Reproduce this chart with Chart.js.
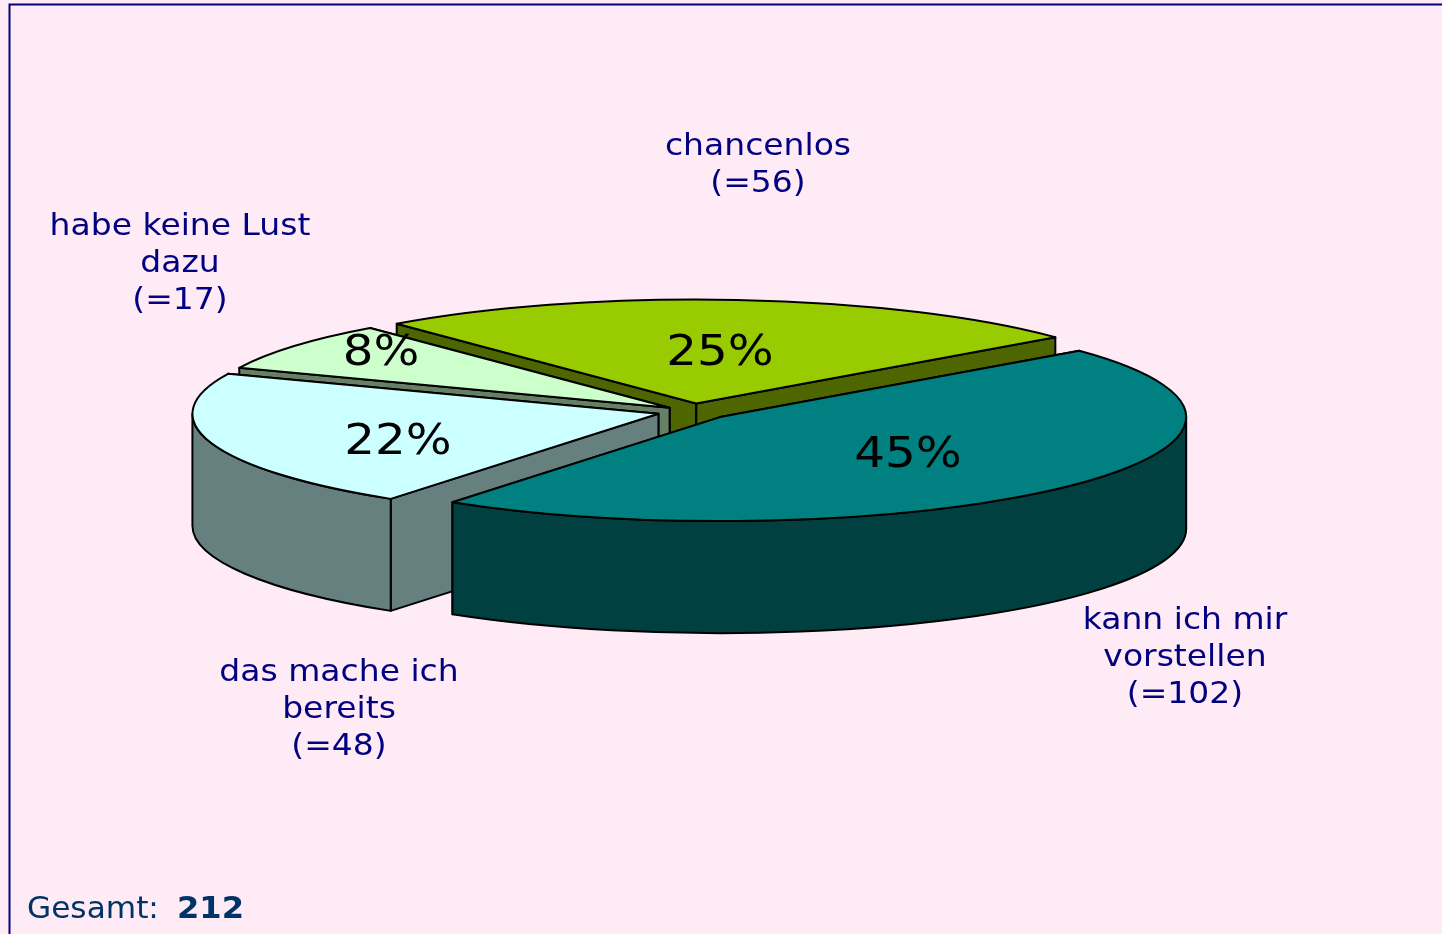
<!DOCTYPE html>
<html lang="de"><head><meta charset="utf-8">
<style>html,body{margin:0;padding:0;background:#FFEBF5;overflow:hidden}canvas{display:block}</style>
<script src="https://cdn.jsdelivr.net/npm/chart.js@4"></script>
</head><body>
<canvas id="c" width="1442" height="934"></canvas>
<script>
const categories = ['kann ich mir vorstellen', 'das mache ich bereits', 'habe keine Lust dazu', 'chancenlos'];
const counts = [102, 48, 17, 56];
const percentLabels = ['45%', '22%', '8%', '25%'];
const topColors = ['#008080', '#CCFFFF', '#CCFFCC', '#99CC00'];
const sideColors = ['#004040', '#668080', '#668066', '#4D6600'];
const labelLines = [['kann ich mir', 'vorstellen', '(=102)'], ['das mache ich', 'bereits', '(=48)'], ['habe keine Lust', 'dazu', '(=17)'], ['chancenlos', '(=56)']];
const totalLabel = 'Gesamt:';
const totalValue = '212';

const GEO = {squash: 104 / 466, explode: [37, 36, 29, 36], depth: 112};
const labelAnchor = [[1185, 629], [339, 681], [180, 235], [758, 155]];
const pctAnchor = [[908, 467], [398, 454], [381, 365], [720, 365]];
const TEXT_SX = 1.1, PCT_SX = 1.15;

function stretched(ctx, s, x, y, sx, align) {
  ctx.save();
  ctx.translate(x, y); ctx.scale(sx, 1);
  ctx.textAlign = align; ctx.textBaseline = 'alphabetic';
  ctx.fillText(s, 0, 0);
  ctx.restore();
}

const pie3d = {
  id: 'pie3d',
  beforeDraw(chart) {
    const ctx = chart.ctx;
    ctx.save();
    ctx.fillStyle = '#FFEBF5';
    ctx.fillRect(0, 0, 1442, 934);
    ctx.strokeStyle = '#000080'; ctx.lineWidth = 2;
    ctx.beginPath(); ctx.moveTo(9.5, 934); ctx.lineTo(9.5, 4.5); ctx.lineTo(1442, 4.5); ctx.stroke();
    ctx.restore();
  },
  beforeDatasetsDraw(chart) {
    const ctx = chart.ctx;
    const arcs = chart.getDatasetMeta(0).data.map((a, i) => ({a, i}));
    const mid = a => (a.startAngle + a.endAngle) / 2;
    arcs.sort((p, q) => Math.sin(mid(p.a)) - Math.sin(mid(q.a)));
    const k = GEO.squash, d = GEO.depth;
    for (const {a, i} of arcs) {
      const m = mid(a), r = a.outerRadius;
      const ax = a.x + Math.cos(m) * GEO.explode[i];
      const ay = a.y + Math.sin(m) * GEO.explode[i] * k;
      const pt = t => [ax + Math.cos(t) * r, ay + Math.sin(t) * r * k];
      ctx.save();
      ctx.lineJoin = 'round'; ctx.lineWidth = 2; ctx.strokeStyle = '#000';
      ctx.fillStyle = sideColors[i];
      const faces = [a.startAngle, a.endAngle].sort((s, t) => Math.sin(s) - Math.sin(t));
      for (const t of faces) {
        const [x, y] = pt(t);
        ctx.beginPath(); ctx.moveTo(ax, ay); ctx.lineTo(x, y); ctx.lineTo(x, y + d); ctx.lineTo(ax, ay + d); ctx.closePath();
        ctx.fill(); ctx.stroke();
      }
      for (const base of [0, Math.PI * 2, -Math.PI * 2]) {
        const s = Math.max(a.startAngle, base), e = Math.min(a.endAngle, base + Math.PI);
        if (e <= s) continue;
        ctx.beginPath();
        ctx.ellipse(ax, ay, r, r * k, 0, s, e);
        ctx.ellipse(ax, ay + d, r, r * k, 0, e, s, true);
        ctx.closePath(); ctx.fill(); ctx.stroke();
      }
      // top surface: the library's own arc element, flattened
      ctx.save();
      ctx.translate(ax, ay); ctx.scale(1, k); ctx.translate(-a.x, -a.y);
      a.draw(ctx, chart.chartArea);
      ctx.restore();
      ctx.beginPath();
      ctx.moveTo(ax, ay);
      ctx.ellipse(ax, ay, r, r * k, 0, a.startAngle, a.endAngle);
      ctx.closePath(); ctx.stroke();
      ctx.restore();
    }
    return false;
  },
  afterDraw(chart) {
    const ctx = chart.ctx;
    ctx.save();
    ctx.fillStyle = '#000000';
    ctx.font = '42px "DejaVu Sans"';
    percentLabels.forEach((s, i) => stretched(ctx, s, pctAnchor[i][0], pctAnchor[i][1], PCT_SX, 'center'));
    ctx.fillStyle = '#000080';
    ctx.font = '30px "DejaVu Sans"';
    labelLines.forEach((lines, i) => lines.forEach((s, j) =>
      stretched(ctx, s, labelAnchor[i][0], labelAnchor[i][1] + j * 37.2, TEXT_SX, 'center')));
    ctx.fillStyle = '#003366';
    ctx.font = '30px "DejaVu Sans"';
    stretched(ctx, totalLabel, 27, 918, 1.04, 'left');
    ctx.font = 'bold 30px "DejaVu Sans"';
    stretched(ctx, totalValue, 177, 918, 1.07, 'left');
    ctx.restore();
  }
};

new Chart(document.getElementById('c'), {
  type: 'pie',
  data: {labels: categories, datasets: [{data: counts, backgroundColor: topColors, borderWidth: 0, radius: 466}]},
  options: {
    responsive: false, animation: false, rotation: 50.4,
    layout: {padding: {left: 0, top: 0, right: 56, bottom: 111}},
    plugins: {legend: {display: false}, tooltip: {enabled: false}}
  },
  plugins: [pie3d]
});
</script>
</body></html>
